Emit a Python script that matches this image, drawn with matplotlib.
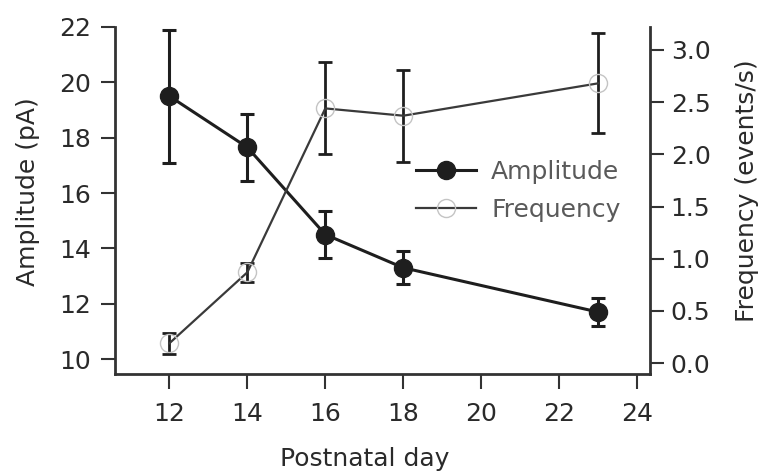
import matplotlib
matplotlib.use('Agg')
import matplotlib.pyplot as plt
from matplotlib.lines import Line2D

plt.rcParams['font.family'] = ['DejaVu Sans']
plt.rcParams['font.size'] = 18

# postnatal days
days = [12, 14, 16, 18, 23]

# amplitude (pA), left axis
amp     = [19.5, 17.65, 14.5, 13.3, 11.7]
amp_err = [2.4, 1.2, 0.85, 0.6, 0.5]

# frequency (events/s), right axis
freq     = [0.19, 0.87, 2.44, 2.37, 2.68]
freq_err = [0.10, 0.09, 0.44, 0.44, 0.48]

xticks  = [12, 14, 16, 18, 20, 22, 24]
yticks1 = [10, 12, 14, 16, 18, 20, 22]
yticks2 = [0.0, 0.5, 1.0, 1.5, 2.0, 2.5, 3.0]

dark = '#1e1e1e'
txt  = '#2a2a2a'

fig = plt.figure( figsize = ( 7.66, 4.72 ), dpi = 100 )
ax = fig.add_axes( [ 0.150, 0.2076, 0.6984, 0.7352 ] )
ax2 = ax.twinx()

# frequency first so amplitude sits on top
ax2.errorbar( days, freq, yerr = freq_err, fmt = 'none', ecolor = dark,
              elinewidth = 2, capsize = 5, capthick = 2, zorder = 2 )
ax2.plot( days, freq, '-', color = '#3a3a3a', lw = 1.6, zorder = 3 )
ax2.plot( days, freq, 'o', ms = 13, mfc = 'none', mec = '#c4c4c4', mew = 1.0, zorder = 4 )

ax.errorbar( days, amp, yerr = amp_err, fmt = 'none', ecolor = dark,
             elinewidth = 2.2, capsize = 5, capthick = 2.2, zorder = 2 )
ax.plot( days, amp, '-o', color = dark, lw = 2.2, ms = 13, mfc = dark, mec = dark, zorder = 3 )

ax.set_xlim( 10.6, 24.33 )
ax.set_ylim( 9.46, 22 )
ax2.set_ylim( -0.105, 3.22 )

ax.set_xticks( xticks )
ax.set_yticks( yticks1 )
ax2.set_yticks( yticks2 )
ax2.set_yticklabels( [ '%.1f' % v for v in yticks2 ] )

for a in ( ax, ax2 ):
    a.spines[ 'top' ].set_visible( False )
    for s in a.spines.values():
        s.set_linewidth( 2 )
        s.set_color( '#333333' )
ax.spines[ 'right' ].set_visible( False )
ax2.spines[ 'left' ].set_visible( False )
ax2.spines[ 'bottom' ].set_visible( False )

ax.tick_params( axis = 'x', direction = 'out', length = 11, width = 1.5, pad = 9, colors = '#333333', labelcolor = txt )
ax.tick_params( axis = 'y', direction = 'out', length = 10, width = 1.5, pad = 7, colors = '#333333', labelcolor = txt )
ax2.tick_params( axis = 'y', direction = 'out', length = 10, width = 1.5, pad = 5, colors = '#333333', labelcolor = txt )

ax.set_xlabel( 'Postnatal day', color = txt )
ax.xaxis.set_label_coords( 0.467, -0.21 )
ax.set_ylabel( 'Amplitude (pA)', color = txt )
ax.yaxis.set_label_coords( -0.14, 0.527 )
ax2.set_ylabel( 'Frequency (events/s)', color = txt )
ax2.yaxis.set_label_coords( 1.16, 0.527 )

handles = [ Line2D( [], [], color = dark, lw = 2.2, marker = 'o', ms = 13, mfc = dark, mec = dark ),
            Line2D( [], [], color = '#3a3a3a', lw = 1.6, marker = 'o', ms = 13, mfc = 'none', mec = '#c4c4c4', mew = 1.0 ) ]
leg = fig.legend( handles, [ 'Amplitude', 'Frequency' ], loc = 'upper left',
                  bbox_to_anchor = ( 416 / 766, 1 - 160 / 472 ), frameon = False,
                  borderpad = 0, borderaxespad = 0, handlelength = 2.4,
                  handletextpad = 0.6, labelspacing = 0.55, fontsize = 18 )
for t in leg.get_texts():
    t.set_color( '#5a5a5a' )

plt.savefig( 'out.png', dpi = 100 )
